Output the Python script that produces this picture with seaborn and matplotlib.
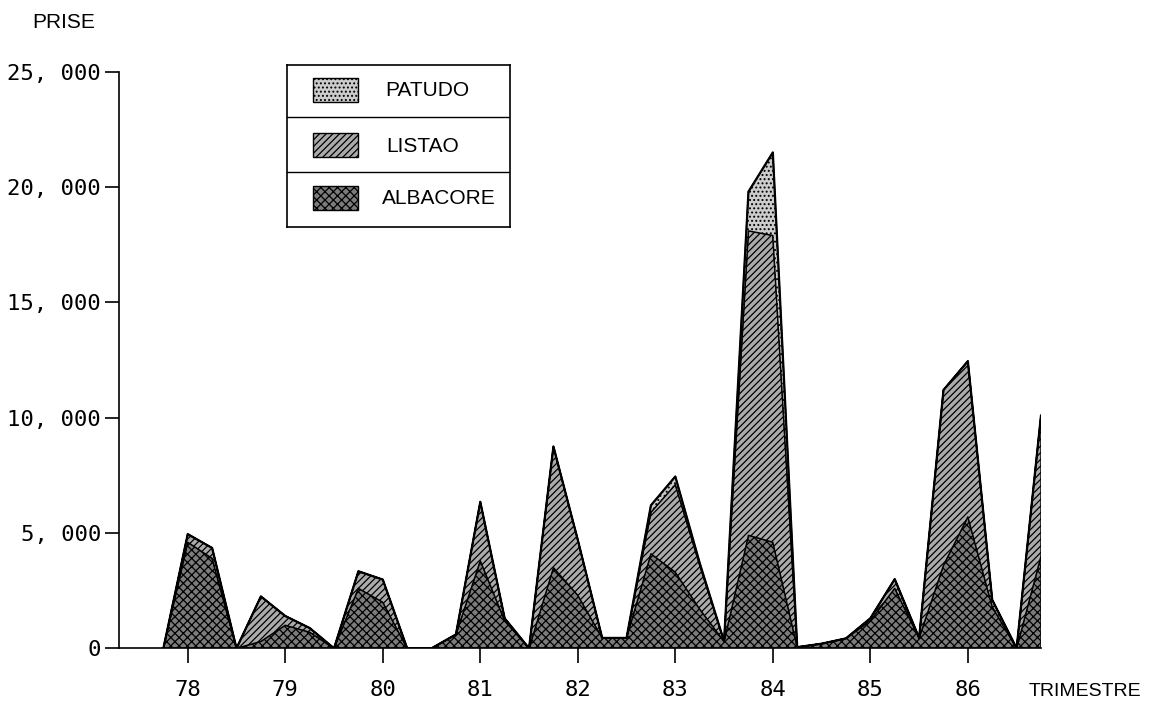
import matplotlib
matplotlib.use("Agg")
import matplotlib.pyplot as plt
import numpy as np
import pandas as pd
import seaborn as sns
from matplotlib.patches import Rectangle

# quarterly catches (thousand tonnes), one value per trimestre, 77-Q4 .. 86-Q4
trimestre = list(range(37))
albacore = [0, 4.6, 3.9, 0, 0.3, 1.0, 0.7, 0, 2.6, 2.0,
            0, 0, 0.6, 3.8, 1.2, 0, 3.5, 2.3, 0.45, 0.45,
            4.1, 3.3, 1.7, 0.3, 4.9, 4.6, 0.05, 0.2, 0.43, 1.2,
            2.6, 0.45, 3.6, 5.7, 1.8, 0, 4.0]
listao = [0, 0.35, 0.45, 0, 1.95, 0.4, 0.18, 0, 0.74, 0.98,
          0, 0, 0, 2.55, 0.1, 0, 5.25, 2.4, 0, 0,
          1.8, 3.8, 1.9, 0, 13.2, 13.3, 0, 0, 0, 0.1,
          0.4, 0, 7.6, 6.75, 0.3, 0, 6.1]
patudo = [0, 0, 0, 0, 0, 0, 0, 0, 0, 0,
          0, 0, 0, 0, 0, 0, 0, 0, 0, 0,
          0.3, 0.35, 0.1, 0, 1.7, 3.6, 0, 0, 0, 0,
          0, 0, 0, 0, 0, 0, 0]

year_ticks = [1, 5, 9, 13, 17, 21, 25, 29, 33]
year_labels = ["78", "79", "80", "81", "82", "83", "84", "85", "86"]
y_ticks = [0, 5000, 10000, 15000, 20000, 25000]
y_labels = ["0", "5, 000", "10, 000", "15, 000", "20, 000", "25, 000"]
species = ["PATUDO", "LISTAO", "ALBACORE"]

df = pd.DataFrame({
    "trimestre": trimestre,
    "ALBACORE": np.array(albacore) * 1000,
    "LISTAO": np.array(listao) * 1000,
    "PATUDO": np.array(patudo) * 1000,
})
df["total"] = df[["ALBACORE", "LISTAO", "PATUDO"]].sum(axis=1)

sns.set_theme(style="white")
plt.rcParams["font.family"] = ["Liberation Sans", "DejaVu Sans"]
plt.rcParams["hatch.linewidth"] = 0.9
plt.rcParams["hatch.color"] = "black"

# halftone look of the scanned print: grey fill + black hatching
styles = {
    "ALBACORE": dict(fc="#7c7c7c", hatch="xxxx"),
    "LISTAO": dict(fc="#ababab", hatch="/////"),
    "PATUDO": dict(fc="#cccccc", hatch="...."),
}

fig = plt.figure(figsize=(11.56, 7.06), dpi=100)
ax = fig.add_axes([119 / 1156, 1 - 648.3 / 706, (1041 - 119) / 1156, (648.3 - 71.7) / 706])

polys = ax.stackplot(df["trimestre"], df["ALBACORE"], df["LISTAO"], df["PATUDO"],
                     colors=[styles[s]["fc"] for s in ["ALBACORE", "LISTAO", "PATUDO"]],
                     edgecolor="black", linewidth=1.0)
for poly, s in zip(polys, ["ALBACORE", "LISTAO", "PATUDO"]):
    poly.set_hatch(styles[s]["hatch"])

# heavier outline on the top of the stack
sns.lineplot(data=df, x="trimestre", y="total", color="black", linewidth=1.6, ax=ax)

ax.set_xlim(-1.82, 36)
ax.set_ylim(0, 25000)
ax.set_xticks(year_ticks)
ax.set_xticklabels(year_labels)
ax.set_yticks(y_ticks)
ax.set_yticklabels(y_labels)
ax.set_xlabel("")
ax.set_ylabel("")
for side in ["top", "right"]:
    ax.spines[side].set_visible(False)
for side in ["left", "bottom"]:
    ax.spines[side].set_color("black")
    ax.spines[side].set_linewidth(1.2)
ax.tick_params(axis="y", direction="out", length=10, width=1.2, color="black", pad=3,
               labelsize=16, left=True)
ax.tick_params(axis="x", direction="out", length=11, width=1.2, color="black", pad=12,
               labelsize=16, bottom=True)
for lab in ax.get_xticklabels() + ax.get_yticklabels():
    lab.set_family("DejaVu Sans Mono")
    lab.set_color("black")

fig.text(64 / 1156, 1 - 22 / 706, "PRISE", ha="center", va="center", fontsize=15, color="black")
fig.text(1085 / 1156, 1 - 692 / 706, "TRIMESTRE", ha="center", va="center", fontsize=14,
         color="black")

# legend as a small boxed table
lx0, lx1, ly0, ly1 = 286.7, 510, 65, 226.7
lg = fig.add_axes([lx0 / 1156, 1 - ly1 / 706, (lx1 - lx0) / 1156, (ly1 - ly0) / 706])
lg.set_xlim(lx0, lx1)
lg.set_ylim(ly1, ly0)
lg.set_xticks([])
lg.set_yticks([])
lg.set_facecolor("white")
for sp in lg.spines.values():
    sp.set_visible(True)
    sp.set_color("black")
    sp.set_linewidth(1.2)
for yy in [117.3, 172.3]:
    lg.plot([lx0, lx1], [yy, yy], color="black", linewidth=1.0)
rows = [("PATUDO", 78, 427), ("LISTAO", 133, 423), ("ALBACORE", 186, 439)]
for name, top, tx in rows:
    lg.add_patch(Rectangle((313, top), 45, 24, facecolor=styles[name]["fc"],
                           hatch=styles[name]["hatch"], edgecolor="black", linewidth=1.0))
    lg.text(tx, top + 13, name, ha="center", va="center", fontsize=15, color="black")

fig.savefig("out.png", dpi=100, facecolor="white")
